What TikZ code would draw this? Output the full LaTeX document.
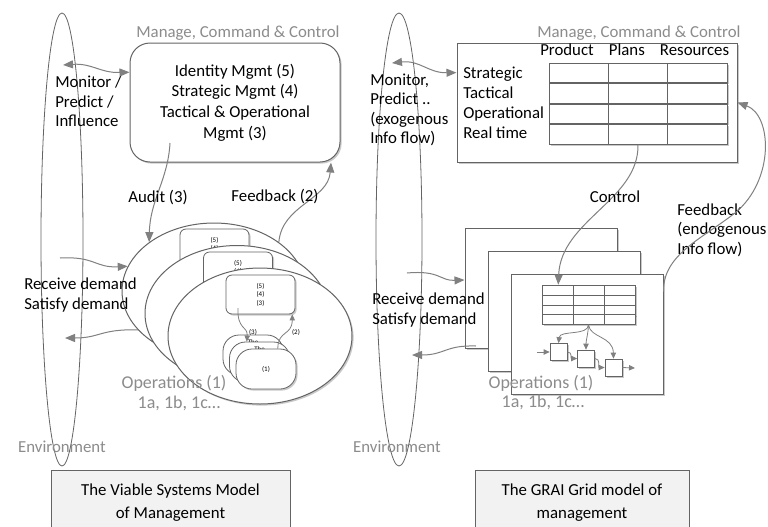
\documentclass[tikz,border=0pt]{standalone}
\usepackage{fontspec}
\setmainfont{Carlito}
\usetikzlibrary{arrows.meta, shapes.geometric, shadows}

\definecolor{linegray}{RGB}{128,128,128}
\definecolor{edgegray}{RGB}{100,100,100}
\definecolor{labelgray}{RGB}{140,140,140}
\definecolor{titlefill}{RGB}{242,242,242}

\begin{document}
\begin{tikzpicture}[x=0.75pt, y=-0.75pt,
    font=\fontsize{12.6}{14.6}\selectfont,
    txt/.style={inner sep=0pt, align=left},
    graytxt/.style={inner sep=0pt, align=center, text=labelgray},
    optxt/.style={graytxt, font=\fontsize{13.5}{15}\selectfont},
    tinytxt/.style={inner sep=0pt, align=center, font=\fontsize{5.2}{6.4}\selectfont},
    dropshade/.style={drop shadow={shadow xshift=1.2pt, shadow yshift=-1.2pt, fill=black!60, opacity=0.35}},
    arr/.style={draw=linegray, line width=0.75pt, -{Triangle[length=7.5pt, width=6pt]}},
    darr/.style={arr, {Triangle[length=7.5pt, width=6pt]}-{Triangle[length=7.5pt, width=6pt]}},
    sarr/.style={draw=linegray, line width=0.6pt, -{Triangle[length=4.5pt, width=4pt]}},
    envshape/.style={ellipse, draw=edgegray, line width=0.6pt, inner sep=0pt, minimum height=339.75pt},
    opshape/.style={ellipse, draw=edgegray, fill=white, dropshade, line width=0.75pt, inner sep=0pt, minimum width=138pt, minimum height=102pt},
    opbox/.style={rectangle, rounded corners=4.5pt, draw=edgegray, fill=white, dropshade, line width=0.6pt, minimum width=51.75pt, minimum height=29.25pt, inner sep=0pt, align=center, font=\fontsize{5.2}{6.4}\selectfont},
    smallop/.style={rectangle, rounded corners=12pt, draw=edgegray, fill=white, dropshade, line width=0.6pt, minimum width=45pt, minimum height=30pt, inner sep=0pt, font=\fontsize{5.2}{6.4}\selectfont},
    mgmtbox/.style={rectangle, rounded corners=15pt, draw=edgegray, fill=white, dropshade, line width=0.75pt, minimum width=157.5pt, minimum height=89.25pt, align=center, font=\fontsize{12.6}{15.5}\selectfont},
    graibox/.style={rectangle, draw=edgegray, fill=white, dropshade, line width=0.75pt, minimum width=210pt, minimum height=89.25pt, inner sep=0pt},
    gridrow/.style={rectangle, draw=edgegray, fill=white, dropshade, line width=0.6pt, minimum width=133.5pt, minimum height=14.6pt, inner sep=0pt},
    sheet/.style={rectangle, draw=edgegray, fill=white, dropshade, line width=0.75pt, minimum width=114pt, minimum height=90pt, inner sep=0pt},
    minirow/.style={rectangle, draw=edgegray, fill=white, dropshade, line width=0.5pt, minimum width=69.75pt, minimum height=7.5pt, inner sep=0pt},
    flowbox/.style={rectangle, draw=edgegray, fill=white, dropshade, line width=0.5pt, minimum size=12.75pt, inner sep=0pt},
    titlebox/.style={rectangle, draw=edgegray, fill=titlefill, line width=0.6pt, minimum height=48.75pt, align=center, font=\fontsize{12.6}{17.25}\selectfont}]

  \useasboundingbox (0,0) rectangle (768,526);
  \fill[white] (0,0) rectangle (768,526);

  % viable systems model
  \node[envshape, minimum width=31.5pt] (env1) at (62,239.5) {};
  \node[graytxt, anchor=base] (envlbl1) at (62,452.5) {Environment};

  \node[graytxt, anchor=base] (mcclbl1) at (238,37.4) {Manage, Command \& Control};
  \node[mgmtbox] (mcc) at (235,102.5) {Identity Mgmt (5)\\Strategic Mgmt (4)\\Tactical \& Operational\\Mgmt (3)};

  \node[txt, anchor=west] (mon1) at (55,101.5) {Monitor /\\Predict /\\Influence};
  \coordinate (monL1) at (63,65);
  \draw[darr] (monL1) .. controls (92,63) and (100,73) .. (mcc.164);

  \node[opshape] (opA) at (214,291) {};
  \node[opbox] (rA) at (214.5,248.5) {(5)\\(4)\\(3)};
  \node[opshape] (opB) at (237,313.5) {};
  \node[opbox] (rB) at (238,271.5) {(5)\\(4)\\(3)};
  \node[opshape] (opC) at (260,336) {};
  \node[opbox] (rC) at (260.5,294.5) {(5)\\(4)\\(3)};

  \node[smallop, label={[tinytxt, anchor=north, yshift=-3.4pt]north:The}] (u1) at (253,355) {};
  \node[smallop, label={[tinytxt, anchor=north, yshift=-3.4pt]north:The}] (u2) at (259.5,362) {};
  \node[smallop] (u3) at (266,369) {(1)};

  \coordinate (dn3) at (238,308);
  \draw[sarr] (dn3) .. controls (237,330) and (248,326) .. (u2.122);
  \node[tinytxt] (l3) at (253,332) {(3)};
  \draw[sarr] (u3.60) .. controls (278,330) and (292,336) .. (rC.-32);
  \node[tinytxt] (l2) at (296,332) {(2)};

  \coordinate (aud1) at (170,143);
  \draw[arr] (aud1) .. controls (168,180) and (150,200) .. (opA.143);
  \node[txt, anchor=base] (audlbl) at (158,202.4) {Audit (3)};
  \draw[arr] (opA.37) .. controls (282,205) and (328,200) .. (mcc.-32);
  \node[txt, anchor=base] (fblbl1) at (275,201.4) {Feedback (2)};

  \node[txt, anchor=west] (dem1) at (24,295) {Receive demand\\Satisfy demand};
  \coordinate (rcv1) at (60,258);
  \draw[arr] (rcv1) .. controls (95,256) and (95,268) .. (opA.164);
  \coordinate (sat1) at (65,338);
  \draw[arr] (opA.207) .. controls (100,329) and (100,338) .. (sat1);

  \node[optxt, anchor=base] (ops1) at (174,388.8) {Operations (1)};
  \node[optxt, anchor=base] (ops1b) at (179,408.8) {1a, 1b, 1c…};

  \node[titlebox, minimum width=179.25pt] (vsm) at (170.5,502.5) {The Viable Systems Model\\of Management};

  % grai grid
  \node[envshape, minimum width=34.5pt] (env2) at (399,239.5) {};
  \node[graytxt, anchor=base] (envlbl2) at (397,452.5) {Environment};

  \node[graytxt, anchor=base west] (mcclbl2) at (537,37.4) {Manage, Command \& Control};
  \node[graibox] (grai) at (597,102.5) {};
  \node[txt, anchor=base west] (cols) at (540,55.4) {Product\hspace{0.9em}Plans\hspace{0.9em}Resources};

  \node[txt, anchor=base west] (lvl1) at (463,78.4) {Strategic};
  \node[txt, anchor=base west] (lvl2) at (463,98.4) {Tactical};
  \node[txt, anchor=base west] (lvl3) at (463,118.4) {Operational};
  \node[txt, anchor=base west] (lvl4) at (463,138.4) {Real time};

  \node[gridrow] (g1) at (638,73) {};
  \node[gridrow] (g2) at (638,93.5) {};
  \node[gridrow] (g3) at (638,114) {};
  \node[gridrow] (g4) at (638,134.5) {};
  \draw[edgegray, line width=0.6pt] (608,63.25) -- (608,144.25);
  \draw[edgegray, line width=0.6pt] (667,63.25) -- (667,144.25);

  \node[txt, anchor=west] (mon2) at (370,110) {Monitor,\\Predict ..\\(exogenous\\Info flow)};
  \coordinate (monL2) at (392,63);
  \draw[darr] (monL2) .. controls (420,60) and (428,73) .. (grai.168);

  \node[sheet] (shA) at (541,288) {};
  \node[sheet] (shB) at (564,311) {};
  \node[sheet] (shC) at (587,334) {};

  \node[minirow] (h1) at (588.5,290) {};
  \node[minirow] (h2) at (588.5,300) {};
  \node[minirow] (h3) at (588.5,310) {};
  \node[minirow] (h4) at (588.5,319.5) {};
  \draw[edgegray, line width=0.5pt] (573,285) -- (573,324.5);
  \draw[edgegray, line width=0.5pt] (604,285) -- (604,324.5);

  \node[flowbox] (f1) at (558.5,352) {};
  \node[flowbox] (f2) at (586,358.5) {};
  \node[flowbox] (f3) at (613.5,367.5) {};
  \draw[sarr] (h4.south) .. controls (588,336) and (560,330) .. (f1.north);
  \draw[sarr] (h4.south) .. controls (588,335) and (586,340) .. (f2.north);
  \draw[sarr] (h4.south) .. controls (590,338) and (613,336) .. (f3.north);
  \coordinate (fin) at (537,352);
  \draw[sarr] (fin) -- (f1.west);
  \draw[sarr] (f1.east) .. controls (573,352) and (570,358.5) .. (f2.west);
  \draw[sarr] (f2.east) .. controls (601,358.5) and (598,367.5) .. (f3.west);
  \coordinate (fout) at (635,368);
  \draw[sarr] (f3.east) -- (fout);

  \draw[arr] (g4.south) .. controls (639,200) and (561,220) .. (h1.170);
  \node[txt, anchor=base] (ctl) at (615,202.4) {Control};

  \node[txt, anchor=west] (dem2) at (372,310) {Receive demand\\Satisfy demand};
  \coordinate (rcv2) at (407,273);
  \draw[arr] (rcv2) .. controls (440,270) and (440,281) .. (shA.174);
  \coordinate (sat2S) at (476,346);
  \coordinate (sat2) at (412,355);
  \draw[arr] (sat2S) .. controls (445,345) and (445,355) .. (sat2);

  \node[txt, anchor=west] (fb2) at (677,230) {Feedback\\(endogenous\\Info flow)};
  \draw[arr] (shC.29) .. controls (663,255) and (700,240) .. (735,213) .. controls (775,180) and (772,115) .. (grai.east);

  \node[optxt, anchor=base] (ops2) at (541,388.8) {Operations (1)};
  \node[optxt, anchor=base] (ops2b) at (543,407.8) {1a, 1b, 1c…};

  \node[titlebox, minimum width=160.5pt] (grait) at (582,502.5) {The GRAI Grid model of\\management};
\end{tikzpicture}
\end{document}
